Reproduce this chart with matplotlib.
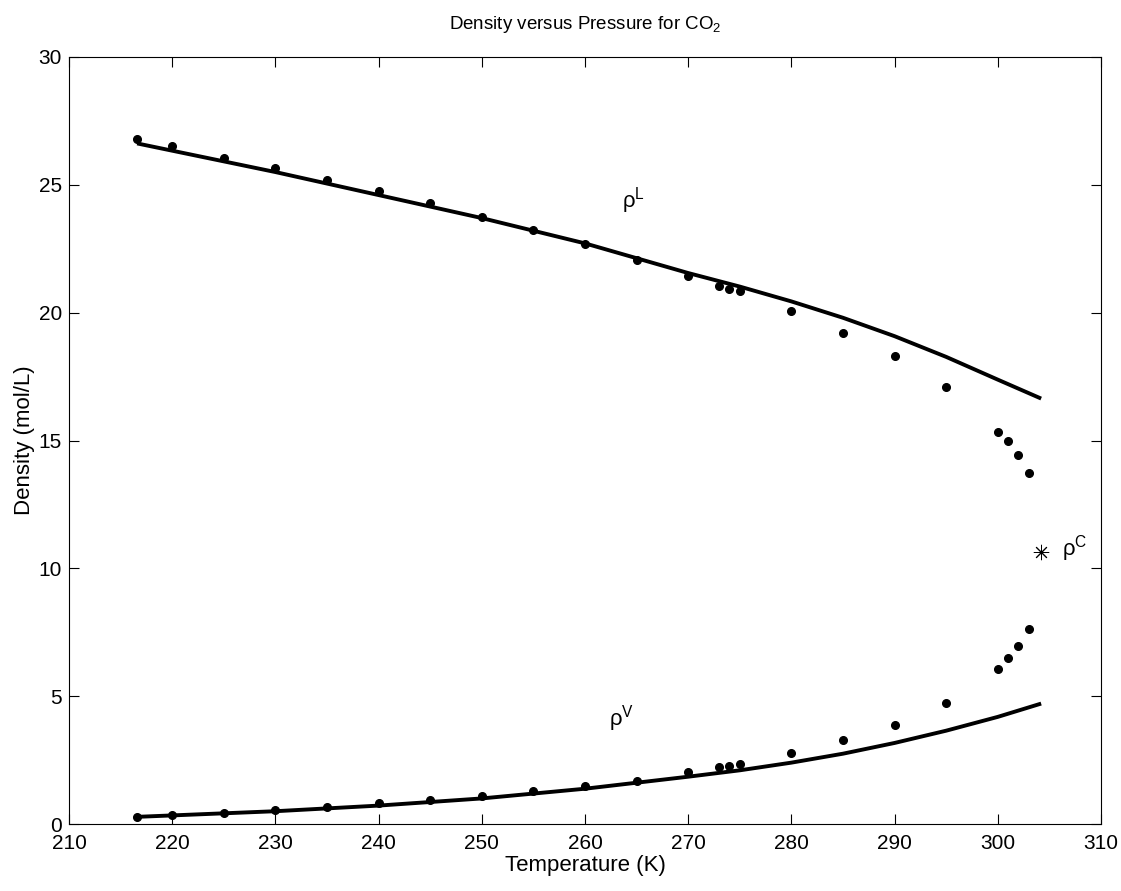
"""Saturated liquid / vapour density of CO2 versus temperature."""
import matplotlib
matplotlib.use('Agg')
import matplotlib.pyplot as plt

plt.rcParams['font.family'] = ['Liberation Sans', 'DejaVu Sans']
plt.rcParams['mathtext.fontset'] = 'custom'
plt.rcParams['mathtext.rm'] = 'Liberation Sans'

# experimental saturation data (dots)
exp_T = [216.6, 220, 225, 230, 235, 240, 245, 250, 255, 260, 265, 270,
         273, 274, 275, 280, 285, 290, 295, 300, 301, 302, 303]
exp_liq = [26.80, 26.52, 26.04, 25.64, 25.18, 24.77, 24.27, 23.75, 23.22, 22.67,
           22.06, 21.45, 21.05, 20.94, 20.83, 20.08, 19.22, 18.29, 17.10,
           15.35, 14.99, 14.42, 13.73]
exp_vap = [0.29, 0.35, 0.44, 0.55, 0.68, 0.81, 0.94, 1.09, 1.30, 1.47, 1.70,
           2.02, 2.22, 2.27, 2.35, 2.76, 3.30, 3.89, 4.75, 6.08, 6.49, 6.98, 7.63]

# model curves (solid lines)
model_T = [216.6, 230, 240, 250, 260, 270, 275, 280, 285, 290, 295, 300, 304.2]
model_liq = [26.62, 25.50, 24.60, 23.70, 22.71, 21.55, 21.02, 20.44, 19.80,
             19.08, 18.27, 17.38, 16.64]
model_vap = [0.28, 0.50, 0.72, 1.00, 1.38, 1.85, 2.10, 2.40, 2.75, 3.17, 3.65,
             4.19, 4.71]

# critical point
crit_T = 304.2
crit_rho = 10.63


def main():
    fig = plt.figure(figsize=(11.21, 8.91), dpi=100)
    ax = fig.add_axes([69 / 1121, 67 / 891, 1032 / 1121, 767 / 891])

    ax.plot(model_T, model_liq, color='black', lw=2.8, solid_capstyle='butt')
    ax.plot(model_T, model_vap, color='black', lw=2.8, solid_capstyle='butt')
    ax.plot(exp_T, exp_liq, 'o', color='black', ms=5.5)
    ax.plot(exp_T, exp_vap, 'o', color='black', ms=5.5)
    ax.plot([crit_T], [crit_rho], marker=(8, 2, 0), color='black', ms=11,
            mew=0.7, ls='none')

    ax.text(263.6, 24.1, r'ρ$^{\mathregular{L}}$', fontsize=16)
    ax.text(262.3, 3.85, r'ρ$^{\mathregular{V}}$', fontsize=16)
    ax.text(306.2, 10.5, r'ρ$^{\mathregular{C}}$', fontsize=16)

    ax.set_xlim(210, 310)
    ax.set_ylim(0, 30)
    ax.set_xticks(range(210, 311, 10))
    ax.set_yticks(range(0, 31, 5))
    ax.tick_params(direction='in', top=True, right=True, length=7,
                   width=0.8, labelsize=15)
    ax.tick_params(axis='x', pad=7.5)
    ax.tick_params(axis='y', pad=5)
    for sp in ax.spines.values():
        sp.set_linewidth(0.8)

    ax.set_xlabel('Temperature (K)', fontsize=16, labelpad=1)
    ax.set_ylabel('Density (mol/L)', fontsize=16, labelpad=3)
    ax.set_title(r'Density versus Pressure for CO$_{\mathregular{2}}$',
                 fontsize=13.5, pad=20)

    fig.savefig('out.png', dpi=100)
    plt.close(fig)


if __name__ == '__main__':
    main()
